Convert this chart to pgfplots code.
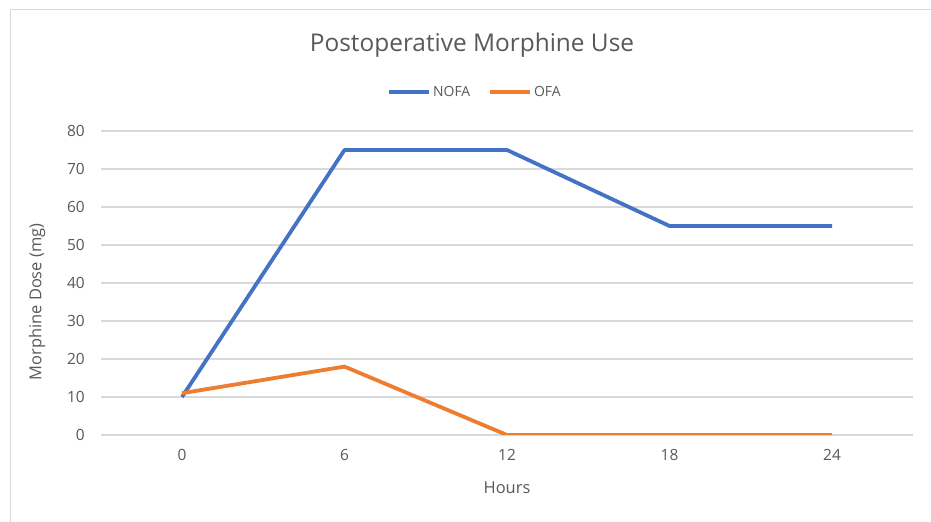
\documentclass[border=0pt]{standalone}
\usepackage{fontspec}
\setmainfont{Open Sans}
\usepackage{pgfplots}
\pgfplotsset{compat=1.18}
\definecolor{nofa}{HTML}{4472C4}
\definecolor{ofa}{HTML}{ED7D31}
\definecolor{txt}{HTML}{595959}
\definecolor{gridc}{HTML}{D9D9D9}
\begin{document}
\begin{tikzpicture}[x=1bp,y=1bp]
\useasboundingbox (0,0) rectangle (931,522);
\fill[white] (0,0) rectangle (931,522);
\draw[gridc, line width=1bp] (10,-5) -- (10,512) -- (940,512);
\begin{axis}[
  at={(100.75bp,87bp)}, anchor=south west,
  scale only axis, width=812.5bp, height=304bp,
  xmin=-0.5, xmax=4.5, ymin=0, ymax=80,
  ytick={0,10,...,80},
  xtick={0,1,2,3,4}, xticklabels={0,6,12,18,24},
  axis line style={draw=none},
  major tick length=0pt,
  xmajorgrids=false,
  ymajorgrids=true,
  major grid style={draw=gridc, line width=1.2bp},
  /pgf/number format/assume math mode=true,
  tick label style={font=\fontsize{15.5}{18}\selectfont, text=txt},
  yticklabel style={xshift=-12.5bp},
  xticklabel style={yshift=-11bp},
  legend columns=2,
  legend style={draw=none, fill=none, at={(0.4606,1.128)}, anchor=center,
    font=\fontsize{14}{16}\selectfont, text=txt,
    /tikz/every even column/.append style={column sep=16bp},
    inner sep=0pt},
  legend image code/.code={\draw[#1] (0bp,0bp) -- (40bp,0bp);},
  every axis plot/.append style={line width=3.8bp, line join=round},
]
\addplot[nofa] coordinates {(0,10) (1,75) (2,75) (3,55) (4,55)};
\addlegendentry{NOFA}
\addplot[ofa] coordinates {(0,11) (1,18) (2,0) (3,0) (4,0)};
\addlegendentry{OFA}
\end{axis}
\node[text=txt, font=\fontsize{24.5}{28}\selectfont] at (472,477) {Postoperative Morphine Use};
\node[text=txt, font=\fontsize{16.5}{19}\selectfont] at (507,34) {Hours};
\node[text=txt, font=\fontsize{16.5}{19}\selectfont, rotate=90] at (37,220) {Morphine Dose (mg)};
\end{tikzpicture}
\end{document}
